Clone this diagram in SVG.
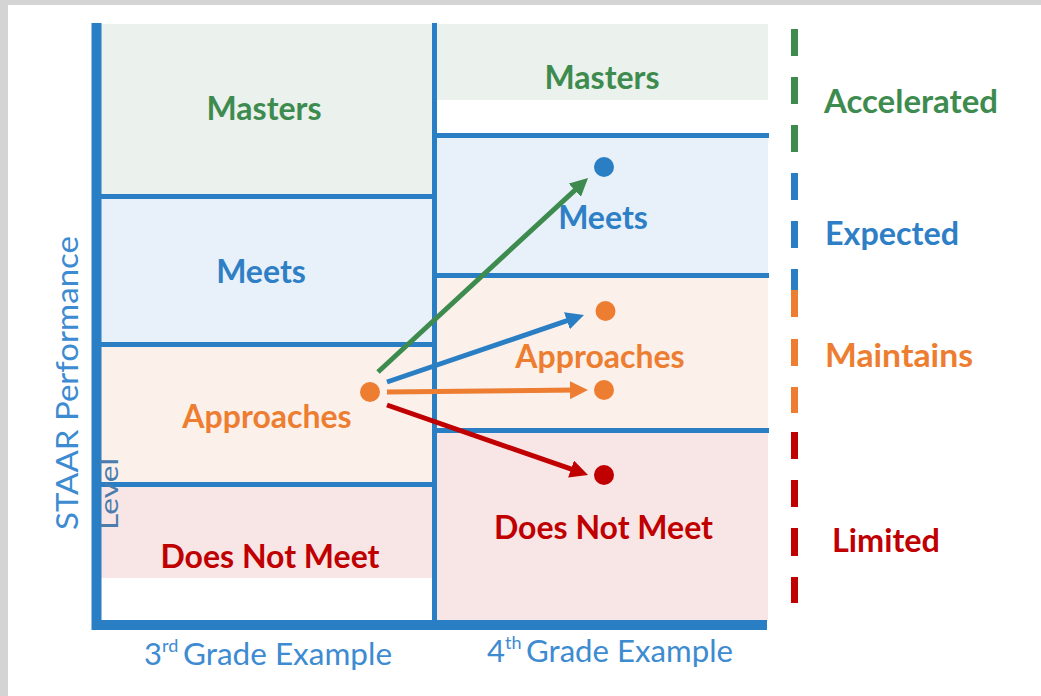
<svg xmlns="http://www.w3.org/2000/svg" width="1041" height="696" viewBox="0 0 1041 696">
<style>
.lbl{font-family:Lato,"Liberation Sans",sans-serif;font-weight:bold;font-size:32px;text-anchor:middle}
.side{font-family:Lato,"Liberation Sans",sans-serif;font-weight:bold;font-size:32px}
.axis{font-family:Lato,"Liberation Sans",sans-serif;font-size:31px;fill:#3d8bd1}
.grid{stroke:#2a7ec4;stroke-width:5;fill:none}
.thick{stroke:#2a7ec4;stroke-width:10;fill:none}
.fm{fill:#ebf1ec}.fe{fill:#e8f1f9}.fa{fill:#fcf0ea}.fd{fill:#f8e5e6}
.g{fill:#3d8b4f}.b{fill:#2e7fc6}.o{fill:#ed7d31}.r{fill:#c00000}
.dash{stroke-width:7;fill:none}
.arr{stroke-width:5;fill:none}
</style>
<defs>
<marker id="hg" markerUnits="userSpaceOnUse" markerWidth="18" markerHeight="18" refX="8" refY="9" orient="auto"><path d="M0,0 L18,9 L0,18 z" fill="#3d8b4f"/></marker>
<marker id="hb" markerUnits="userSpaceOnUse" markerWidth="18" markerHeight="18" refX="8" refY="9" orient="auto"><path d="M0,0 L18,9 L0,18 z" fill="#2a7ec4"/></marker>
<marker id="ho" markerUnits="userSpaceOnUse" markerWidth="18" markerHeight="18" refX="8" refY="9" orient="auto"><path d="M0,0 L18,9 L0,18 z" fill="#ed7d31"/></marker>
<marker id="hr" markerUnits="userSpaceOnUse" markerWidth="18" markerHeight="18" refX="8" refY="9" orient="auto"><path d="M0,0 L18,9 L0,18 z" fill="#c00000"/></marker>
</defs>
<rect x="0" y="0" width="1041" height="696" fill="#d4d4d4"/>
<rect x="8" y="5" width="1033" height="691" fill="#ffffff"/>

<g id="grade3">
<rect class="fm" x="101" y="24" width="331" height="171"/>
<rect class="fe" x="101" y="198" width="331" height="145"/>
<rect class="fa" x="101" y="346" width="331" height="137"/>
<rect class="fd" x="101" y="486" width="331" height="92"/>
<line class="grid" x1="99" y1="196.5" x2="434" y2="196.5"/>
<line class="grid" x1="99" y1="344.5" x2="434" y2="344.5"/>
<line class="grid" x1="99" y1="484.5" x2="434" y2="484.5"/>
</g>
<g id="grade4">
<rect class="fm" x="437" y="24" width="331" height="76"/>
<rect class="fe" x="437" y="138" width="331" height="136"/>
<rect class="fa" x="437" y="278" width="331" height="151"/>
<rect class="fd" x="437" y="433" width="331" height="188"/>
<line class="grid" x1="434" y1="135.5" x2="769" y2="135.5"/>
<line class="grid" x1="434" y1="275.5" x2="769" y2="275.5"/>
<line class="grid" x1="434" y1="430.5" x2="769" y2="430.5"/>
</g>
<g id="axes">
<line class="grid" x1="434.5" y1="23" x2="434.5" y2="622"/>
<line class="thick" x1="96.5" y1="23" x2="96.5" y2="630"/>
<line class="thick" x1="92" y1="625" x2="767" y2="625"/>
</g>

<g id="node-g3-masters"><text class="lbl g" x="264" y="120">Masters</text></g>
<g id="node-g3-meets"><text class="lbl b" x="261" y="283">Meets</text></g>
<g id="node-g3-approaches"><text class="lbl o" x="267" y="428">Approaches</text></g>
<g id="node-g3-dnm"><text class="lbl r" x="270" y="568">Does Not Meet</text></g>
<g id="node-g4-masters"><text class="lbl g" x="602" y="89">Masters</text></g>
<g id="node-g4-meets"><text class="lbl b" x="603" y="229">Meets</text></g>
<g id="node-g4-approaches"><text class="lbl o" x="600" y="368">Approaches</text></g>
<g id="node-g4-dnm"><text class="lbl r" x="603.5" y="539">Does Not Meet</text></g>

<g id="axis-labels">
<text class="axis" font-size="33" text-anchor="middle" textLength="294" lengthAdjust="spacingAndGlyphs" transform="translate(78,383) rotate(-90)">STAAR Performance</text>
<text font-family="Lato,'Liberation Sans',sans-serif" font-size="25" fill="#4a7cae" text-anchor="middle" textLength="72" lengthAdjust="spacingAndGlyphs" transform="translate(118,494) rotate(-90)">Level</text>
<text class="axis" x="144" y="665">3<tspan font-size="18" y="652">rd</tspan><tspan x="183" y="665" textLength="209" lengthAdjust="spacingAndGlyphs">Grade Example</tspan></text>
<text class="axis" x="487" y="662">4<tspan font-size="18" y="649">th</tspan><tspan x="526" y="662" textLength="207" lengthAdjust="spacingAndGlyphs">Grade Example</tspan></text>
</g>

<g id="node-source"><circle cx="370" cy="392" r="10" fill="#ed7d31"/></g>
<g id="node-target-meets"><circle cx="604" cy="167" r="10" fill="#2a7ec4"/></g>
<g id="node-target-approaches-up"><circle cx="605.5" cy="311" r="10" fill="#ed7d31"/></g>
<g id="node-target-approaches"><circle cx="604" cy="390" r="10" fill="#ed7d31"/></g>
<g id="node-target-dnm"><circle cx="604" cy="475" r="10" fill="#c00000"/></g>

<g id="connectors">
<line class="arr" stroke="#3d8b4f" x1="378" y1="372" x2="580.7" y2="184.8" marker-end="url(#hg)"/>
<line class="arr" stroke="#2a7ec4" x1="387" y1="382" x2="574.5" y2="318.2" marker-end="url(#hb)"/>
<line class="arr" stroke="#ed7d31" x1="387" y1="392" x2="578" y2="390.1" marker-end="url(#ho)"/>
<line class="arr" stroke="#c00000" x1="387" y1="405" x2="578.6" y2="471.7" marker-end="url(#hr)"/>
</g>

<g id="scale">
<path class="dash" stroke="#3d8b4f" d="M794.5,29v27M794.5,77v27M794.5,125v27"/>
<path class="dash" stroke="#2a7ec4" d="M794.5,173v27M794.5,221v27M794.5,269v21"/>
<path class="dash" stroke="#ed7d31" d="M794.5,290v27M794.5,339v27M794.5,387v26"/>
<path class="dash" stroke="#c00000" d="M794.5,432v27M794.5,480v27M794.5,528v28M794.5,577v26"/>
<text class="side g" x="824" y="113" textLength="174" lengthAdjust="spacingAndGlyphs">Accelerated</text>
<text class="side b" x="825" y="245" textLength="134" lengthAdjust="spacingAndGlyphs">Expected</text>
<text class="side o" x="825" y="367" textLength="148" lengthAdjust="spacingAndGlyphs">Maintains</text>
<text class="side r" x="832" y="552" textLength="108" lengthAdjust="spacingAndGlyphs">Limited</text>
</g>
</svg>
